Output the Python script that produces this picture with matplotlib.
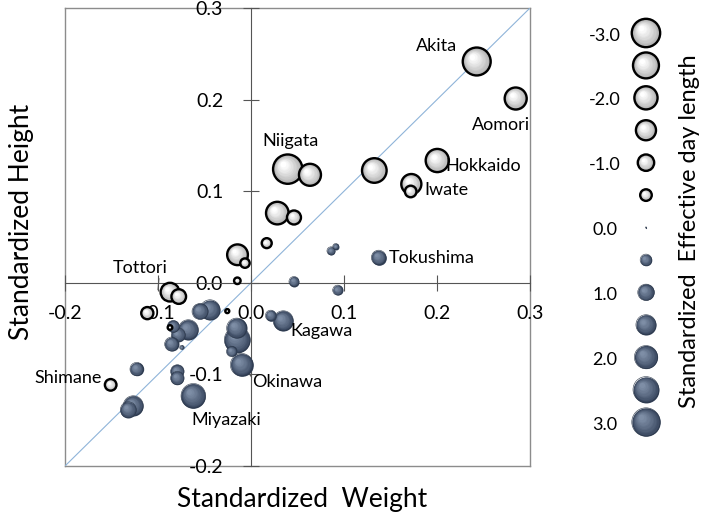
import matplotlib
matplotlib.use("Agg")
import matplotlib.pyplot as plt
import numpy as np
from matplotlib.transforms import offset_copy
from matplotlib.colors import to_rgb

plt.rcParams['font.family'] = ['Lato', 'DejaVu Sans']

# standardized weight (x), height (y), effective day length (bubble)
weight = [0.2427, 0.2846, 0.2003, 0.1724, 0.1717, 0.1326, 0.0395, 0.0634, 0.0283, 0.0462,
          0.0169, -0.0145, -0.0065, -0.0147, -0.0871, -0.0777, -0.1115, -0.0871, -0.0255, -0.1509,
          0.1373, 0.0860, 0.0911, 0.0462, 0.0932, 0.0347, 0.0212, -0.0154, -0.0147, -0.0208,
          -0.0100, -0.0548, -0.0441, -0.0835, -0.0674, -0.0782, -0.0853, -0.0745, -0.1229, -0.0792,
          -0.0792, -0.0620, -0.1266, -0.1319]
height = [0.2416, 0.2012, 0.1335, 0.1078, 0.0997, 0.1226, 0.1241, 0.1179, 0.0761, 0.0713,
          0.0433, 0.0306, 0.0215, 0.0022, -0.0102, -0.0150, -0.0331, -0.0488, -0.0309, -0.1114,
          0.0276, 0.0349, 0.0396, 0.0014, -0.0080, -0.0415, -0.0357, -0.0495, -0.0622, -0.0750,
          -0.0895, -0.0313, -0.0295, -0.0477, -0.0513, -0.0568, -0.0669, -0.0706, -0.0942, -0.0968,
          -0.1040, -0.1234, -0.1343, -0.1386]
daylen = [-2.9, -1.8, -2.0, -1.5, -0.5, -2.25, -3.2, -1.8, -1.9, -0.73,
          -0.37, -1.6, -0.33, -0.16, -1.3, -0.8, -0.55, -0.08, -0.06, -0.5,
          0.8, 0.24, 0.13, 0.37, 0.37, 1.5, 0.42, 1.5, 2.5, 0.4,
          1.9, 0.95, 1.5, 0.54, 1.5, 0.73, 0.73, 0.06, 0.67, 0.67,
          0.67, 2.25, 1.5, 0.95]

names = ["Akita", "Aomori", "Niigata", "Hokkaido", "Iwate", "Tokushima", "Tottori",
         "Kagawa", "Okinawa", "Shimane", "Miyazaki"]
name_x = [0.1997, 0.2685, 0.0427, 0.2498, 0.2097, 0.1943, -0.1194, 0.0760, 0.0384, -0.1965, -0.0261]
name_y = [0.2580, 0.1725, 0.1543, 0.1270, 0.1008, 0.0276, 0.0164, -0.0524, -0.1084, -0.1034, -0.1503]

ticks = [-0.2, -0.1, 0.0, 0.1, 0.2, 0.3]
legend_vals = [-3.0, -2.5, -2.0, -1.5, -1.0, -0.5, 0.0, 0.5, 1.0, 1.5, 2.0, 2.5, 3.0]

R1 = 8.2          # bubble radius in px for |value| = 1
DPI = 100

fig = plt.figure(figsize=(7.04, 5.25), dpi=DPI)
pos = [65/704, 59/525, 465/704, 458/525]
frame = fig.add_axes(pos)
ax = fig.add_axes(pos)
frame.set_zorder(0)
ax.set_zorder(1)
ax.patch.set_visible(False)


def bubble(a, x, y, v, z):
    r = R1 * np.sqrt(abs(v))
    if r < 0.6:
        r = 0.6
    d = 2 * r * 72 / DPI
    if v < 0:
        base, hi, edge, lw = to_rgb("#a9a9a9"), to_rgb("#ffffff"), "black", 1.7
    else:
        base, hi, edge, lw = to_rgb("#34425a"), to_rgb("#7e8ea6"), "#2c3849", 0.4
    a.scatter([x], [y], s=d**2, color=base, linewidths=0, zorder=z)
    n = 10
    for k in range(1, n + 1):
        f = k / n
        off = r * 0.32 * f
        tr = offset_copy(a.transData, fig, x=-off, y=off, units='dots')
        c = tuple(b + (h - b) * f**0.8 for b, h in zip(base, hi))
        a.scatter([x], [y], s=(d * (1 - 0.8 * f))**2, color=c, linewidths=0,
                  transform=tr, zorder=z)
    a.scatter([x], [y], s=d**2, facecolor="none", edgecolor=edge, linewidths=lw, zorder=z)


order = np.argsort(-np.abs(np.array(daylen)))
for i, idx in enumerate(order):
    bubble(ax, weight[idx], height[idx], daylen[idx], 3 + i * 0.01)

ax.set_xlim(-0.2, 0.3)
ax.set_ylim(-0.2, 0.3)
lim = ax.get_xlim()
ax.plot(lim, lim, color="#8fb4d9", lw=0.8, zorder=2)

for s in ["top", "right"]:
    ax.spines[s].set_visible(False)
ax.spines["left"].set_position(("data", 0))
ax.spines["bottom"].set_position(("data", 0))
ax.spines["left"].set_color("#555555")
ax.spines["bottom"].set_color("#555555")
ax.set_xticks(ticks)
ax.set_yticks(ticks)
ax.set_xticklabels([f"{t:.1f}" for t in ticks])
ax.set_yticklabels([f"{t:.1f}" for t in ticks])
ax.tick_params(axis="both", direction="inout", length=12, width=0.8, color="#555555",
               labelsize=14, labelcolor="black")
ax.tick_params(axis="x", pad=10)
ax.tick_params(axis="y", pad=14)

frame.set_xticks([])
frame.set_yticks([])
for s in frame.spines.values():
    s.set_color("#8c8c8c")
    s.set_linewidth(1.0)

for nm, tx, ty in zip(names, name_x, name_y):
    if nm == "Tottori":
        ax.annotate(nm, xy=(-0.1, -0.0076), xytext=(tx, ty), ha="center", va="center",
                    fontsize=13, zorder=10,
                    arrowprops=dict(arrowstyle="-", color="#555555", lw=0.8,
                                    relpos=(0.85, 0), shrinkA=0, shrinkB=0))
    elif nm == "Okinawa":
        ax.annotate(nm, xy=(-0.001, -0.1004), xytext=(tx, ty), ha="center", va="center",
                    fontsize=13, zorder=10,
                    arrowprops=dict(arrowstyle="-", color="#555555", lw=0.8,
                                    relpos=(0, 0.8), shrinkA=0, shrinkB=0))
    else:
        ax.text(tx, ty, nm, ha="center", va="center", fontsize=13, zorder=10)

fig.text(22/704, 1 - 222/525, "Standardized Height", rotation=90, ha="center", va="center",
         fontsize=19)
fig.text(302/704, 1 - 500/525, "Standardized  Weight", ha="center", va="center", fontsize=19)

# size legend
lg = fig.add_axes([560/704, 70/525, 144/704, 455/525])
lg.set_xlim(0, 1)
lg.set_ylim(3.509, -3.509)
lg.axis("off")
for i, v in enumerate(legend_vals):
    bubble(lg, 0.597, v, v, 3 + i * 0.01)
    if float(v).is_integer():
        lg.text(0.3125, v + 0.04, f"{v:.1f}", ha="center", va="center", fontsize=13)
lg.text(0.9, 0.06, "Standardized  Effective day length", rotation=90, ha="center",
        va="center", fontsize=17)

fig.savefig("out.png", dpi=DPI)
